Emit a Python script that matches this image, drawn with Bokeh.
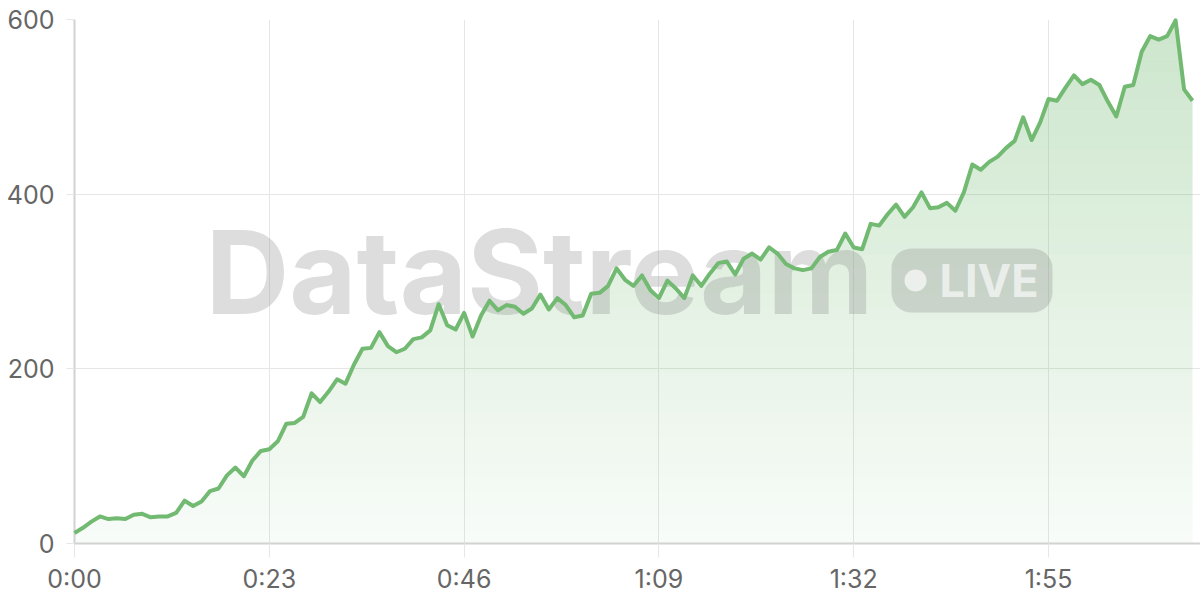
import numpy as np
from bokeh.plotting import figure
from bokeh.models import FixedTicker, Label, BoxAnnotation, Range1d
from bokeh.embed import file_html
from bokeh.resources import INLINE

# ---- data ----
seconds = list(range(133))
values = [12, 18, 25, 31, 28, 29, 28, 33, 34, 30,
          31, 31, 35, 49, 43, 48, 60, 63, 78, 87,
          77, 95, 106, 108, 117, 137, 138, 145, 172, 162,
          174, 188, 183, 205, 223, 224, 242, 226, 219, 223,
          234, 236, 244, 274, 250, 245, 264, 237, 261, 278,
          267, 273, 271, 263, 269, 285, 268, 281, 273, 259,
          261, 286, 287, 295, 315, 302, 295, 307, 290, 281,
          301, 292, 281, 307, 295, 309, 321, 323, 308, 326,
          332, 325, 339, 332, 320, 315, 313, 315, 328, 334,
          336, 355, 339, 337, 366, 364, 377, 388, 374, 385,
          402, 384, 385, 390, 381, 402, 434, 428, 437, 443,
          453, 461, 488, 462, 482, 509, 507, 522, 536, 526,
          531, 525, 506, 489, 523, 525, 563, 581, 577, 581,
          599, 520, 507]
x_ticks = [0, 23, 46, 69, 92, 115]
x_tick_labels = ["0:00", "0:23", "0:46", "1:09", "1:32", "1:55"]
y_ticks = [0, 200, 400, 600]
watermark_text = "DataStream"
badge_text = "LIVE"

GREEN = "#72b972"
FONT = "Inter"

p = figure(width=1200, height=600, output_backend="svg", toolbar_location=None,
           x_range=Range1d(0, 132.94), y_range=Range1d(0, 600),
           min_border_left=74, min_border_right=0, min_border_top=19,
           min_border_bottom=57)
p.outline_line_color = None
p.background_fill_color = "white"

# gradient area via stacked bands
x = np.array(seconds, dtype=float)
v = np.array(values, dtype=float)
edges = np.linspace(0, 600, 41)
for lo, hi in zip(edges[:-1], edges[1:]):
    mid = 0.5 * (lo + hi)
    a = 0.045 + 0.32 * (mid / 600.0)
    y1 = np.minimum(v, lo)
    y2 = np.minimum(v, hi)
    if np.all(y2 <= y1):
        continue
    p.varea(x=x, y1=y1, y2=y2, fill_color=GREEN, fill_alpha=a)

# watermark
wm = Label(x=131, y=272, x_units="screen", y_units="screen", text=watermark_text,
           text_font=FONT, text_font_style="bold", text_font_size="116px",
           text_color="#808080", text_alpha=0.27, text_baseline="alphabetic",
           text_align="left")
p.add_layout(wm)
pill = BoxAnnotation(left=817, right=978, bottom=231, top=295,
                     left_units="screen", right_units="screen",
                     bottom_units="screen", top_units="screen",
                     fill_color="#808080", fill_alpha=0.27, line_color=None,
                     border_radius=20)
p.add_layout(pill)
dot = BoxAnnotation(left=830, right=852, bottom=252, top=274,
                    left_units="screen", right_units="screen",
                    bottom_units="screen", top_units="screen",
                    fill_color="white", fill_alpha=0.65, line_color=None,
                    border_radius=11)
p.add_layout(dot)
live = Label(x=865, y=263, x_units="screen", y_units="screen", text=badge_text,
             text_font=FONT, text_font_style="bold", text_font_size="45px",
             text_color="white", text_alpha=0.65, text_baseline="alphabetic",
             text_align="left")
p.add_layout(live)

# line
ln = p.line(x, v, line_color=GREEN, line_width=4, line_join="round")
ln.level = "overlay"

# axes / grid
p.xaxis.ticker = FixedTicker(ticks=x_ticks)
p.xaxis.major_label_overrides = {t: l for t, l in zip(x_ticks, x_tick_labels)}
p.yaxis.ticker = FixedTicker(ticks=y_ticks)
for ax in (p.xaxis, p.yaxis):
    ax.axis_line_color = "#d2d2d2"
    ax.axis_line_width = 2
    ax.major_tick_line_color = "#e6e6e6"
    ax.major_tick_line_width = 1
    ax.major_tick_in = 0
    ax.minor_tick_line_color = None
    ax.major_label_text_font = FONT
    ax.major_label_text_font_size = "25px"
    ax.major_label_text_color = "#666666"
p.xaxis.major_tick_out = 14
p.xaxis.major_label_standoff = 6
p.yaxis.major_tick_out = 8
p.yaxis.major_label_standoff = 12
p.xgrid.grid_line_color = "#e6e6e6"
p.ygrid.grid_line_color = "#e6e6e6"
p.xgrid.ticker = FixedTicker(ticks=x_ticks)
p.ygrid.ticker = FixedTicker(ticks=y_ticks)

open("out.html", "w").write(file_html(p, INLINE))
